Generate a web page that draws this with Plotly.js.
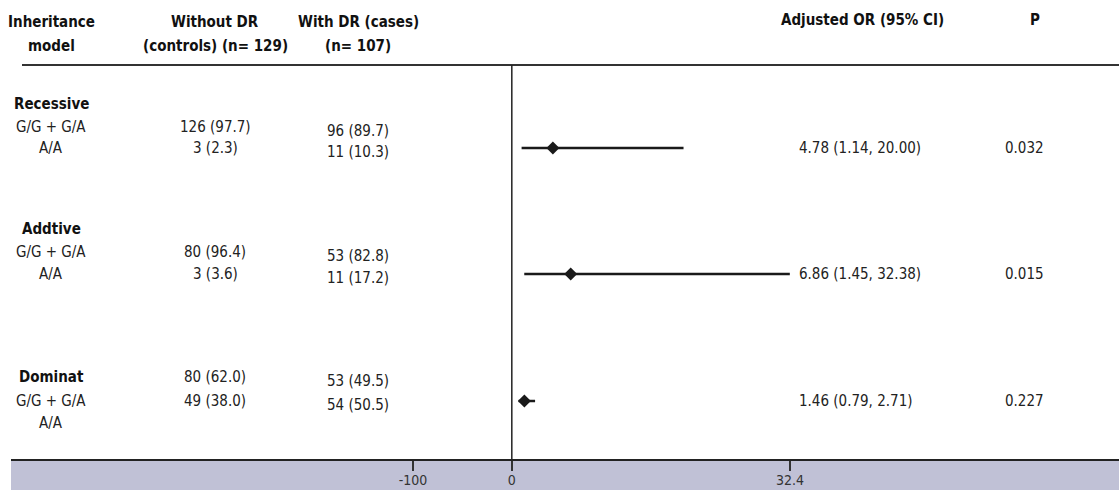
<!DOCTYPE html>
<html>
<head>
<meta charset="utf-8">
<script src="https://cdn.plot.ly/plotly-3.0.1.min.js"></script>
<style>html,body{margin:0;padding:0;background:#fff;}#chart{width:1119px;height:490px;}</style>
</head>
<body>
<div id="chart"></div>
<script>
// ---- data ----
const models = ['Recessive', 'Addtive', 'Dominat'];
const genotypes = ['G/G + G/A', 'A/A'];
const controlsN = [[126, 3], [80, 3], [80, 49]];
const controlsPct = [[97.7, 2.3], [96.4, 3.6], [62.0, 38.0]];
const casesN = [[96, 11], [53, 11], [53, 54]];
const casesPct = [[89.7, 10.3], [82.8, 17.2], [49.5, 50.5]];
const orVals = [4.78, 6.86, 1.46];
const ciLow = [1.14, 1.45, 0.79];
const ciHigh = [20.00, 32.38, 2.71];
const pVals = ['0.032', '0.015', '0.227'];
const tickVals = [-11.5, 0, 32.4];
const tickText = ['-100', '0', '32.4'];
const headers = {
  model: ['Inheritance', 'model'],
  controls: ['Without DR', '(controls) (n= 129)'],
  cases: ['With DR (cases)', '(n= 107)'],
  or: 'Adjusted OR (95% CI)',
  p: 'P'
};

// ---- layout helpers (positions, not data) ----
const W = 1119, H = 490;
const L = 11, R = 0, T = 65, B = 30;
const plotW = W - L - R, plotH = H - T - B;
const px = x => (x - L) / plotW;            // page x pixel -> paper x
const py = y => (H - B - y) / plotH;         // page y pixel -> paper y
const groupTop = [39, 164, 312];             // y (px below plot top) of model label
const genoDy = [[23, 44], [23, 45], [24, 46]];
const valueDy = [[23, 44], [23, 45], [0, 24]];
const casesShift = 4;

const FONT = 'Liberation Sans Narrow, Arial Narrow, DejaVu Sans Condensed, sans-serif';
const TXT = '#222';
const ann = [];
function addText(text, xpix, y, opts) {
  ann.push(Object.assign({
    text: text, xref: 'paper', yref: 'y', x: px(xpix), y: y,
    xanchor: 'center', yanchor: 'middle', showarrow: false,
    font: {family: FONT, size: 15, color: TXT}
  }, opts || {}));
}
function addHeader(lines, xpix, ypix) {
  lines.forEach((t, i) => {
    ann.push({
      text: '<b>' + t + '</b>', xref: 'paper', yref: 'paper',
      x: px(xpix), y: py(ypix + i * 24), xanchor: 'center', yanchor: 'middle',
      showarrow: false, font: {family: FONT, size: 15, color: '#111'}
    });
  });
}
const COL1 = 51, COL2 = 215, COL3 = 358, COLOR = 797, COLP = 1024;

// headers
addHeader(headers.model, COL1, 22);
addHeader(headers.controls, COL2, 22);
addHeader(headers.cases, COL3, 22);
addHeader([headers.or], 862, 20);
addHeader([headers.p], 1035, 20);

const hb = {font: {family: FONT, size: 15, color: '#111'}};
const ciY = [];
models.forEach((m, g) => {
  const top = groupTop[g];
  addText('<b>' + m + '</b>', COL1, top, hb);
  genotypes.forEach((gt, k) => {
    addText(gt, COL1, top + genoDy[g][k]);
    addText(controlsN[g][k] + ' (' + controlsPct[g][k].toFixed(1) + ')', COL2, top + valueDy[g][k]);
    addText(casesN[g][k] + ' (' + casesPct[g][k].toFixed(1) + ')', COL3, top + valueDy[g][k] + casesShift);
  });
  const yc = top + valueDy[g][1];
  ciY.push(yc);
  addText(orVals[g].toFixed(2) + ' (' + ciLow[g].toFixed(2) + ', ' + ciHigh[g].toFixed(2) + ')', COLOR, yc, {xanchor: 'left'});
  addText(pVals[g], COLP, yc);
});

const xLeft = -58.33, xRight = 70.72;

const trace = {
  type: 'scatter', mode: 'markers',
  x: orVals, y: ciY,
  marker: {symbol: 'diamond', size: 10, color: '#1a1a1a'},
  error_x: {
    type: 'data', symmetric: false,
    array: orVals.map((v, i) => ciHigh[i] - v),
    arrayminus: orVals.map((v, i) => v - ciLow[i]),
    width: 0, thickness: 2.5, color: '#1a1a1a'
  },
  hoverinfo: 'skip', cliponaxis: false
};

const layout = {
  width: W, height: H,
  margin: {l: L, r: R, t: T, b: B, pad: 0},
  paper_bgcolor: '#fff', plot_bgcolor: '#fff',
  showlegend: false,
  font: {family: FONT, size: 15, color: TXT},
  xaxis: {
    range: [xLeft, xRight], tickvals: tickVals, ticktext: tickText,
    ticks: 'outside', ticklen: 10, tickwidth: 1.5, tickcolor: '#333',
    ticklabelstandoff: -3,
    showline: false, showgrid: false, zeroline: false,
    tickfont: {family: FONT, size: 14, color: '#333'}, fixedrange: true
  },
  yaxis: {range: [395, 0], visible: false, fixedrange: true},
  shapes: [
    {type: 'rect', xref: 'paper', yref: 'paper', x0: 0, x1: 1, y0: -B / plotH, y1: 0,
     fillcolor: 'rgb(192,193,214)', line: {width: 0}, layer: 'below'},
    {type: 'line', xref: 'paper', yref: 'paper', x0: 0, x1: 1, y0: 0, y1: 0,
     line: {color: '#222', width: 2}},
    {type: 'line', xref: 'paper', yref: 'paper', x0: px(22), x1: 1, y0: 1, y1: 1,
     line: {color: '#333', width: 2}},
    {type: 'line', xref: 'x', yref: 'paper', x0: 0, x1: 0, y0: 0, y1: 1,
     line: {color: '#222', width: 1.5}}
  ],
  annotations: ann
};

Plotly.newPlot('chart', [trace], layout, {displayModeBar: false, staticPlot: true});
</script>
</body>
</html>
